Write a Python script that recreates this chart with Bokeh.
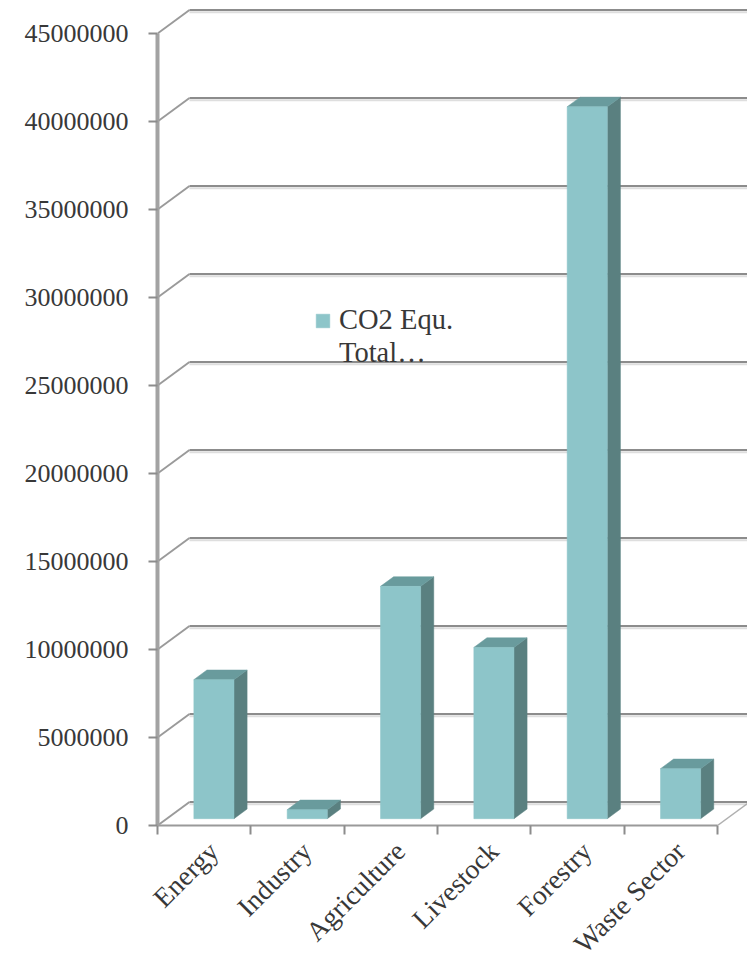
import math
from bokeh.plotting import figure
from bokeh.models import (Range1d, FixedTicker, NumeralTickFormatter, LinearAxis,
                          Legend, LegendItem)
from bokeh.embed import file_html
from bokeh.resources import INLINE

# ---- data ----
categories = ["Energy", "Industry", "Agriculture", "Livestock", "Forestry", "Waste Sector"]
co2_total = [7900000, 510000, 13200000, 9730000, 40450000, 2840000]
y_ticks = [0, 5000000, 10000000, 15000000, 20000000, 25000000,
           30000000, 35000000, 40000000, 45000000]
legend_lines = ["CO2 Equ.", "Total\u2026"]

# ---- geometry / style ----
FRAME_W, FRAME_H = 590, 825
PX_PER_CAT = 93.33
PX_PER_UNIT_Y = 88.0 / 5000000.0
X_END = FRAME_W / PX_PER_CAT
Y_END = FRAME_H / PX_PER_UNIT_Y
DX = 32 / PX_PER_CAT            # depth offset (x) in data units
DY = 23.5 / PX_PER_UNIT_Y       # depth offset (y) in data units
F0, FD = 0.29, 0.41             # bar front depth fraction, bar depth fraction
BAR_LEFT, BAR_W = 0.29, 0.43

FONT = "Liberation Serif"
TXT = "#383838"
GRID = "#8c8c8c"
FRONT, SIDE, TOP = "#8DC5C9", "#5A8080", "#699B9D"

p = figure(frame_width=FRAME_W, frame_height=FRAME_H, output_backend="svg",
           toolbar_location=None, x_range=Range1d(0, X_END), y_range=Range1d(0, Y_END),
           x_axis_type=None, y_axis_type=None,
           min_border_left=157, min_border_right=0, min_border_top=0, min_border_bottom=141)
p.outline_line_color = None
p.xgrid.visible = False
p.ygrid.visible = False
p.background_fill_color = "white"

# ---- back wall gridlines (with light shadow) and left wall diagonals ----
n = len(categories)
back_x0 = [DX for _ in y_ticks]
back_x1 = [n + DX + 1 for _ in y_ticks]
back_y = [v + DY for v in y_ticks]
shadow_y = [v + DY - 2.2 / PX_PER_UNIT_Y for v in y_ticks]
p.segment(x0=back_x0, y0=shadow_y, x1=back_x1, y1=shadow_y, line_color="#dedede", line_width=2)
p.segment(x0=back_x0, y0=back_y, x1=back_x1, y1=back_y, line_color=GRID, line_width=2.2)
p.segment(x0=[0 for _ in y_ticks], y0=y_ticks, x1=back_x0, y1=back_y,
          line_color="#9a9a9a", line_width=2)
# right floor edge
p.segment(x0=[n], y0=[0], x1=[n + DX], y1=[DY], line_color="#b0b0b0", line_width=1.5)

# ---- bars ----
left = [i + BAR_LEFT + F0 * DX for i in range(n)]
right = [l + BAR_W for l in left]
bottom = [F0 * DY for _ in range(n)]
top = [v + F0 * DY for v in co2_total]
ddx, ddy = FD * DX, FD * DY

side_xs = [[r, r + ddx, r + ddx, r] for r in right]
side_ys = [[b, b + ddy, t + ddy, t] for b, t in zip(bottom, top)]
top_xs = [[l, r, r + ddx, l + ddx] for l, r in zip(left, right)]
top_ys = [[t, t, t + ddy, t + ddy] for t in top]

p.patches(xs=side_xs, ys=side_ys, fill_color=SIDE, line_color=SIDE, line_width=0.5)
p.patches(xs=top_xs, ys=top_ys, fill_color=TOP, line_color=TOP, line_width=0.5)
front = p.quad(left=left, right=right, bottom=bottom, top=top,
               fill_color=FRONT, line_color=FRONT, line_width=0.5)
# invisible renderer for the wrapped second legend line
blank = p.quad(left=[], right=[], bottom=[], top=[], fill_alpha=0, line_alpha=0)

# ---- axes ----
yax = LinearAxis(ticker=FixedTicker(ticks=y_ticks), formatter=NumeralTickFormatter(format="0"))
yax.bounds = (0, y_ticks[-1])
yax.axis_line_color = "#a3a3a3"
yax.axis_line_width = 4
yax.major_tick_line_color = GRID
yax.major_tick_line_width = 2
yax.major_tick_out = 9
yax.major_tick_in = 0
yax.minor_tick_line_color = None
yax.major_label_standoff = 20
yax.major_label_text_font = FONT
yax.major_label_text_font_size = "26px"
yax.major_label_text_color = TXT
p.add_layout(yax, "left")

label_pos = [i + 0.6 for i in range(n)]
xax = LinearAxis(ticker=FixedTicker(ticks=label_pos, minor_ticks=list(range(n + 1))))
xax.major_label_overrides = {c: name for c, name in zip(label_pos, categories)}
xax.bounds = (0, n)
xax.axis_line_color = "#9a9a9a"
xax.axis_line_width = 2
xax.major_tick_line_color = None
xax.minor_tick_line_color = GRID
xax.minor_tick_line_width = 2
xax.minor_tick_out = 9
xax.minor_tick_in = 0
xax.major_label_orientation = math.pi / 4
xax.major_label_standoff = 12
xax.major_label_text_font = FONT
xax.major_label_text_font_size = "27.5px"
xax.major_label_text_color = TXT
p.add_layout(xax, "below")

# ---- legend ----
legend = Legend(items=[LegendItem(label=legend_lines[0], renderers=[front]),
                       LegendItem(label=legend_lines[1], renderers=[blank])],
                location=(157, 456), padding=0, margin=0, spacing=1,
                glyph_width=17, glyph_height=17, label_standoff=8,
                label_text_font=FONT, label_text_font_size="28.5px", label_text_color=TXT,
                border_line_color=None, background_fill_alpha=0)
p.add_layout(legend, "center")

open("out.html", "w").write(file_html(p, INLINE))
